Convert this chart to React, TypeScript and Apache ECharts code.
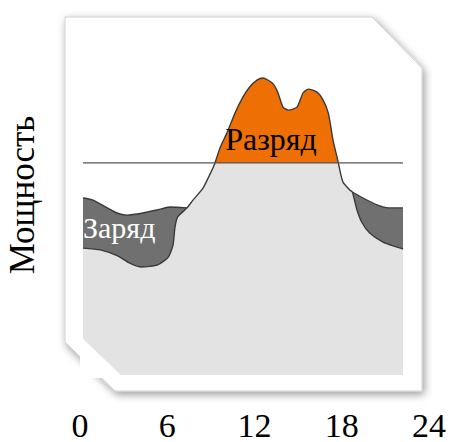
import React, { useEffect, useRef } from "react";
import * as echarts from "echarts";

// Hours of the day for the bottom axis
const hourTicks = [0, 6, 12, 18, 24];
const HOUR_INTERVAL = 6;

// Base load profile over the day: [hour, power]
const baseLoad: [number, number][] = [
  [0, 42.3], [1.3, 41.7], [2.6, 39.7], [3.5, 37.3], [4.4, 36], [5.6, 36.7],
  [6.4, 39.3], [6.75, 43.3], [6.9, 49.3], [7.1, 52.7], [7.8, 55.7], [8.25, 58.3],
  [9.0, 62.3], [9.5, 66.7], [9.9, 70.7], [10.3, 76], [10.8, 80.7], [11.4, 87.3],
  [12, 92.7], [12.5, 96], [13.05, 98.3], [13.5, 99], [14.2, 97.3], [14.6, 94.3],
  [15, 89.3], [15.4, 88.3], [16.05, 89.3], [16.5, 94], [16.9, 95.3], [17.55, 94.3],
  [18, 91.7], [18.4, 87.3], [18.75, 78.3], [19.1, 71.7], [19.3, 67.5], [19.5, 64.3],
  [20.0, 61.7], [20.2, 61], [20.55, 55], [20.9, 51], [21.5, 47.3], [22.5, 44.3],
  [23.5, 42.7], [24, 42],
];

// Load including storage charging (night / morning)
const chargeMorning: [number, number][] = [
  [0, 59], [0.75, 58.3], [2.55, 54], [3.3, 53.3], [4.5, 54], [5.55, 55], [6.5, 56], [7.8, 55.7],
];

// Load including storage charging (evening)
const chargeEvening: [number, number][] = [
  [20.2, 61], [21, 59], [22.05, 56.7], [22.9, 55.7], [24, 55.7],
];

// Peak-shaving threshold level
const THRESHOLD = 70.7;
const thresholdLine: [number, number][] = [[0, THRESHOLD], [24, THRESHOLD]];

const yAxisTitle = "Мощность";
const dischargeLabel = "Разряд";
const chargeLabel = "Заряд";

const SERIF = "Liberation Serif, serif";
const ORANGE = "#ee7005";
const DARK = "#707070";
const LIGHT = "#e3e3e3";
const OUTLINE = "#3a3a3a";

export default function App() {
  const ref = useRef<HTMLDivElement>(null);

  useEffect(() => {
    if (!ref.current) return;
    const chart = echarts.init(ref.current, undefined, { renderer: "svg" });

    const option: any = {
      animation: false,
      grid: [
        { left: 83, right: 48, top: 75, bottom: 67 },
        { left: 80, right: 22, top: 380, bottom: 40 },
      ],
      xAxis: [
        { type: "value", gridIndex: 0, min: 0, max: 24, show: false },
        {
          type: "value",
          gridIndex: 1,
          min: 0,
          max: 24,
          interval: HOUR_INTERVAL,
          axisLine: { show: false },
          axisTick: { show: false },
          splitLine: { show: false },
          axisLabel: {
            show: true,
            showMinLabel: true,
            showMaxLabel: true,
            margin: 8,
            fontSize: 34,
            fontFamily: SERIF,
            color: "#000",
            formatter: (v: number) => (hourTicks.includes(v) ? String(v) : ""),
          },
        },
      ],
      yAxis: [
        { type: "value", gridIndex: 0, min: 0, max: 100, show: false },
        { type: "value", gridIndex: 1, min: 0, max: 1, show: false },
      ],
      series: [
        {
          name: "chargeMorning",
          type: "line",
          data: chargeMorning,
          symbol: "none",
          smooth: 0.2,
          lineStyle: { color: OUTLINE, width: 1.4 },
          areaStyle: { color: DARK, opacity: 1 },
          z: 2,
        },
        {
          name: "chargeEvening",
          type: "line",
          data: chargeEvening,
          symbol: "none",
          smooth: 0.2,
          lineStyle: { color: OUTLINE, width: 1.4 },
          areaStyle: { color: DARK, opacity: 1 },
          z: 2,
        },
        {
          name: "load",
          type: "line",
          data: baseLoad,
          symbol: "none",
          smooth: 0.2,
          lineStyle: { color: OUTLINE, width: 1.4 },
          areaStyle: { color: LIGHT, opacity: 1 },
          z: 3,
        },
        {
          name: "threshold",
          type: "line",
          data: thresholdLine,
          symbol: "none",
          lineStyle: { color: "#555", width: 1.2 },
          z: 4,
        },
        {
          name: "ticks",
          type: "line",
          xAxisIndex: 1,
          yAxisIndex: 1,
          symbol: "none",
          lineStyle: { width: 0 },
          data: [[0, 0]],
        },
      ],
      graphic: [
        {
          type: "polygon",
          z: 0,
          shape: {
            points: [[65, 17], [372, 17], [422, 68], [422, 391], [115, 391], [65, 342]],
          },
          style: {
            fill: "#fff",
            stroke: "#cfcfcf",
            lineWidth: 1,
            shadowBlur: 8,
            shadowOffsetX: 2,
            shadowOffsetY: 3,
            shadowColor: "rgba(0,0,0,0.4)",
          },
        },
        {
          type: "polygon",
          z: 10,
          shape: { points: [[80, 336], [80, 378], [124, 378]] },
          style: { fill: "#fff" },
        },
        {
          type: "text",
          z: 20,
          x: 271,
          y: 139,
          style: {
            text: dischargeLabel,
            font: "32px 'Liberation Serif', serif",
            fill: "#000",
            align: "center",
            verticalAlign: "middle",
          },
        },
        {
          type: "text",
          z: 20,
          x: 83,
          y: 227,
          style: {
            text: chargeLabel,
            font: "30px 'Liberation Serif', serif",
            fill: "#fff",
            align: "left",
            verticalAlign: "middle",
          },
        },
        {
          type: "text",
          z: 20,
          x: 22,
          y: 195,
          rotation: Math.PI / 2,
          style: {
            text: yAxisTitle,
            font: "35px 'Liberation Serif', serif",
            fill: "#000",
            align: "center",
            verticalAlign: "middle",
          },
        },
      ],
    };

    chart.setOption(option);

    // Split the load area colour at the threshold using the axis scale
    const yThr = chart.convertToPixel({ gridIndex: 0 } as any, [0, THRESHOLD]) as number[];
    const yTop = chart.convertToPixel({ gridIndex: 0 } as any, [0, 100]) as number[];
    const yBot = chart.convertToPixel({ gridIndex: 0 } as any, [0, 0]) as number[];
    if (yThr && yTop && yBot) {
      const off = (yThr[1] - yTop[1]) / (yBot[1] - yTop[1]);
      const grad = new echarts.graphic.LinearGradient(
        0, yTop[1], 0, yBot[1],
        [
          { offset: 0, color: ORANGE },
          { offset: off, color: ORANGE },
          { offset: off, color: LIGHT },
          { offset: 1, color: LIGHT },
        ],
        true
      );
      chart.setOption({
        series: [{}, {}, { areaStyle: { color: grad, opacity: 1 } }],
      });
    }

    return () => chart.dispose();
  }, []);

  return (
    <div
      ref={ref}
      style={{ position: "fixed", left: 0, top: 0, width: 451, height: 442, background: "#fff" }}
    />
  );
}
